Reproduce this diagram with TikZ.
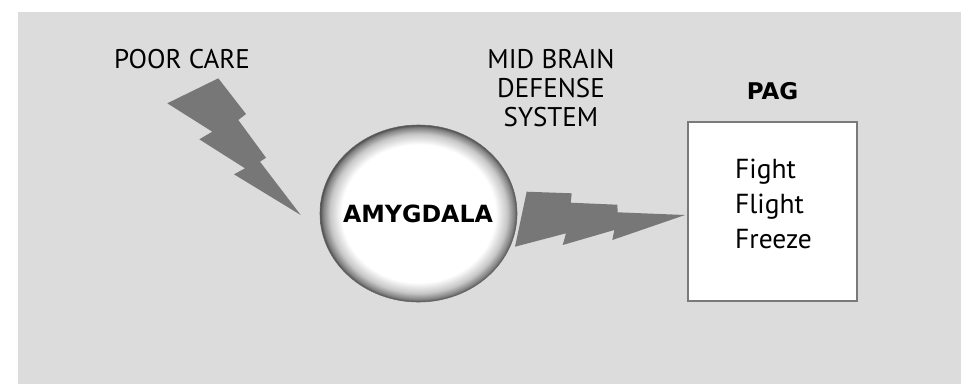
\documentclass[tikz,border=0pt]{standalone}
\usepackage{fontspec}
\setmainfont{PT Sans}
\newfontfamily\boldfam{DejaVu Sans}
\usetikzlibrary{shapes.geometric}
\definecolor{bg}{HTML}{DCDCDC}
\definecolor{bolt}{HTML}{777777}
\definecolor{rim}{HTML}{7A7A7A}
\pgfdeclareradialshading{amyg}{\pgfpoint{0bp}{0bp}}{color(0bp)=(white); color(19.5bp)=(white); color(22.5bp)=(black!22); color(24.3bp)=(black!50); color(25bp)=(black!70); color(50bp)=(black!70)}
\tikzset{
  lbl/.style={font=\fontsize{27}{29}\selectfont, inner sep=0pt, anchor=base},
  blbl/.style={font=\boldfam\bfseries\fontsize{23.7}{27}\selectfont, inner sep=0pt, anchor=base},
  itm/.style={font=\fontsize{27.5}{29}\selectfont, inner sep=0pt, anchor=base west},
  boltfill/.style={fill=bolt, draw=none}
}
\begin{document}
\begin{tikzpicture}[x=1pt,y=-1pt]
\useasboundingbox (0,0) rectangle (961,384);
\fill[white] (0,0) rectangle (961,384);
\fill[bg] (18,12) rectangle (961,384);
% texts
\node[lbl] (poor) at (182,68.3) {POOR CARE};
\node[lbl] (mid1) at (551,68.3) {MID BRAIN};
\node[lbl] (mid2) at (551,97.3) {DEFENSE};
\node[lbl] (mid3) at (551,126) {SYSTEM};
\node[blbl, font=\boldfam\bfseries\fontsize{23}{27}\selectfont] (pag) at (772.5,99.3) {PAG};
% box
\node[draw=rim, line width=2pt, fill=white, minimum width=169pt, minimum height=179pt, inner sep=0pt] (box) at (772.2,211.3) {};
\node[itm] (fight) at (735,178.3) {Fight};
\node[itm] (flight) at (735,213.3) {Flight};
\node[itm] (freeze) at (735,248.3) {Freeze};
% amygdala
\node[ellipse, minimum width=197pt, minimum height=177pt, inner sep=0pt, shading=amyg, draw=black!60, line width=0.6pt] (amy) at (418.5,213.5) {};
\node[blbl] (amyt) at (418,222.7) {AMYGDALA};
% bolt 1
\fill[boltfill] (167.3,103.3) -- (218.3,78.3) -- (246,114) -- (238.3,120) -- (266,157.7) -- (260,161.7) -- (300.7,215) -- (234,174.3) -- (245,168.3) -- (199.3,139.3) -- (212.3,131.7) -- cycle;
% bolt 2
\fill[boltfill] (515,246.7) -- (526.7,191.7) -- (571.7,193.3) -- (570.7,202.7) -- (617.3,204.7) -- (617.7,212.3) -- (685,215) -- (612.3,240) -- (614.3,230) -- (562.7,245) -- (566,233.3) -- cycle;
\end{tikzpicture}
\end{document}
